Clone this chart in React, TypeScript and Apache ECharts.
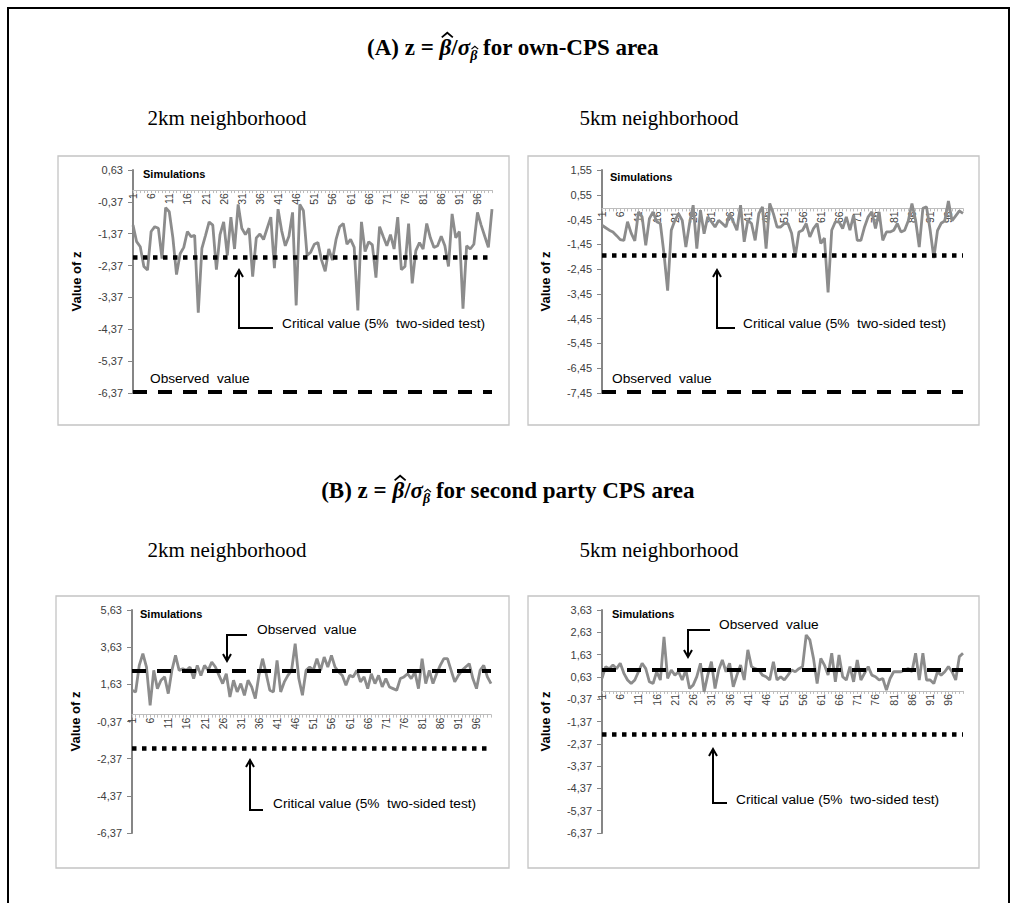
import React, { useEffect, useRef } from "react";
import * as echarts from "echarts";

// ---------- data ----------
const categories: string[] = Array.from({ length: 100 }, (_, i) => String(i + 1));

const simOwn2km = [
  -1.10, -1.62, -1.78, -2.40, -2.51, -1.30, -1.15, -1.20, -2.15, -0.55,
  -0.68, -1.50, -2.65, -2.00, -1.80, -1.30, -1.46, -1.42, -3.85, -1.83,
  -1.42, -1.00, -1.10, -2.50, -1.40, -1.00, -2.05, -0.85, -1.85, -0.45,
  -1.20, -1.40, -1.20, -2.72, -1.50, -1.38, -1.55, -1.20, -0.85, -2.45,
  -0.60, -1.28, -1.75, -1.45, -0.70, -3.62, -0.45, -0.65, -2.05, -1.95,
  -1.70, -1.65, -2.20, -2.55, -1.85, -2.20, -1.55, -1.15, -1.05, -1.70,
  -1.55, -1.80, -3.78, -1.00, -1.93, -1.62, -1.72, -2.75, -1.15, -1.46,
  -1.75, -1.40, -1.85, -0.85, -2.50, -2.40, -1.05, -2.93, -1.90, -1.65,
  -1.85, -1.05, -1.50, -1.80, -1.75, -1.45, -1.75, -2.40, -0.75, -1.50,
  -1.30, -3.72, -1.75, -1.85, -1.70, -0.70, -1.10, -1.45, -1.80, -0.60,
];
const simOwn5km = [
  -0.68, -0.78, -0.88, -0.95, -1.10, -1.26, -1.29, -0.54, -1.00, -1.31,
  -0.14, -0.34, -1.49, -0.41, -0.14, -0.54, -0.61, -1.83, -3.32, -0.88,
  -0.48, -0.21, -0.48, -1.56, -0.61, 0.13, -1.62, -0.07, -1.02, -0.34,
  -0.54, -0.75, -0.48, -0.61, -0.75, -0.21, -0.54, -0.88, 0.13, -1.35,
  -0.48, -0.61, -1.29, -0.21, 0.06, -1.62, 0.20, -0.21, -0.75, -0.75,
  -0.61, -0.61, -1.00, -1.95, -0.95, -0.88, -0.61, -1.15, -0.81, -0.61,
  -1.42, -1.20, -3.39, -0.88, -0.54, -0.54, -0.81, -0.34, -0.88, -0.27,
  -1.29, -1.29, -0.75, -0.34, -0.14, -0.81, -0.14, -1.29, -0.95, -0.95,
  -0.88, -0.61, -0.95, -0.88, -0.50, 0.20, -0.48, -1.56, 0.00, 0.06,
  -0.88, -2.00, -0.90, -0.60, -0.50, 0.30, -0.50, -0.30, -0.10, -0.20,
];
const simSecond2km = [
  1.31, 1.22, 2.65, 3.28, 2.56, 0.50, 2.38, 1.40, 1.85, 2.03,
  1.13, 2.38, 3.19, 2.38, 2.47, 2.38, 2.56, 1.94, 2.65, 2.11,
  2.65, 2.38, 2.83, 2.56, 2.11, 1.67, 2.20, 0.95, 1.85, 1.22,
  1.67, 1.04, 1.85, 1.49, 0.86, 2.11, 3.01, 2.20, 1.31, 1.22,
  2.92, 1.22, 1.76, 2.11, 2.38, 3.82, 1.94, 1.04, 2.38, 2.56,
  2.38, 3.01, 2.38, 3.10, 2.56, 3.19, 2.56, 2.29, 2.11, 1.58,
  2.11, 2.03, 2.38, 1.76, 2.03, 1.40, 2.20, 1.67, 2.11, 1.49,
  1.94, 1.49, 1.40, 1.31, 1.94, 2.03, 2.20, 1.94, 2.29, 1.40,
  3.01, 1.67, 2.38, 1.67, 2.20, 2.65, 3.01, 3.01, 2.38, 1.76,
  2.11, 2.38, 2.56, 2.74, 1.94, 1.40, 2.38, 2.65, 2.03, 1.67,
];
const simSecond5km = [
  0.56, 1.09, 1.00, 1.16, 1.00, 1.24, 0.79, 0.49, 0.33, 0.49,
  0.86, 1.24, 1.00, 0.41, 0.33, 0.86, 0.49, 2.43, 0.56, 0.94,
  0.71, 0.86, 0.49, 0.94, 0.11, 0.26, 0.64, 1.24, -0.04, 0.71,
  1.31, 0.11, 0.94, 1.39, 0.86, 1.24, 0.19, 0.71, 1.16, 0.49,
  1.84, 1.09, 1.00, 0.94, 0.71, 0.64, 0.49, 1.31, 0.49, 0.64,
  0.49, 0.71, 0.94, 0.86, 1.00, 1.09, 2.51, 2.29, 1.46, 0.33,
  1.46, 1.16, 0.71, 1.69, 0.41, 1.61, 0.64, 0.49, 1.09, 0.41,
  1.39, 0.49, 0.79, 1.09, 0.71, 0.64, 0.49, 0.56, 0.04, 0.56,
  0.86, 0.86, 0.86, 0.94, 1.00, 0.86, 1.69, 0.49, 1.69, 0.49,
  0.49, 0.33, 0.86, 0.71, 0.86, 1.09, 0.86, 0.49, 1.54, 1.69,
];

const ticksOwn2km = [0.63, -0.37, -1.37, -2.37, -3.37, -4.37, -5.37, -6.37];
const ticksOwn5km = [1.55, 0.55, -0.45, -1.45, -2.45, -3.45, -4.45, -5.45, -6.45, -7.45];
const ticksSecond2km = [5.63, 3.63, 1.63, -0.37, -2.37, -4.37, -6.37];
const ticksSecond5km = [3.63, 2.63, 1.63, 0.63, -0.37, -1.37, -2.37, -3.37, -4.37, -5.37, -6.37];

const criticalValues = [-2.1, -1.9, -1.8, -1.95];
const observedValues = [-6.33, -7.41, 2.36, 0.94];

// ---------- styling ----------
const SANS = "'Liberation Sans', Arial, sans-serif";
const SERIF = "'Liberation Serif', 'Times New Roman', serif";
const fmt = (v: number) => v.toFixed(2).replace(".", ",");

const grids = [
  { left: 133, top: 170, width: 359, height: 223 },
  { left: 602, top: 170, width: 361, height: 223 },
  { left: 132, top: 610, width: 359, height: 223 },
  { left: 602, top: 610, width: 361, height: 223 },
];
const panelData = [simOwn2km, simOwn5km, simSecond2km, simSecond5km];
const panelTicks = [ticksOwn2km, ticksOwn5km, ticksSecond2km, ticksSecond5km];

let measureCtx: CanvasRenderingContext2D | null = null;
function measure(font: string, text: string): number {
  if (!measureCtx) measureCtx = document.createElement("canvas").getContext("2d");
  if (!measureCtx) return text.length * 10;
  measureCtx.font = font;
  return measureCtx.measureText(text).width;
}

// Title "(A) z = β̂/σ_β̂ rest" built from measured pieces, centred on cx
function titleGroup(cx: number, cy: number, label: string, rest: string): any[] {
  const size = 23;
  const subSize = 14;
  const fam = "'Liberation Serif'";
  const fB = `bold ${size}px ${fam}`;
  const fBI = `italic bold ${size}px ${fam}`;
  const fSub = `italic bold ${subSize}px ${fam}`;
  const pieces = [
    { text: `${label} z = `, font: fB, size, italic: false, dy: 0, hat: false },
    { text: "β", font: fBI, size, italic: true, dy: 0, hat: true },
    { text: "/", font: fB, size, italic: false, dy: 0, hat: false },
    { text: "σ", font: fBI, size, italic: true, dy: 0, hat: false },
    { text: "β", font: fSub, size: subSize, italic: true, dy: 8, hat: true },
    { text: ` ${rest}`, font: fB, size, italic: false, dy: 0, hat: false },
  ];
  const widths = pieces.map((p) => measure(p.font, p.text));
  const total = widths.reduce((a, b) => a + b, 0);
  let x = cx - total / 2;
  const out: any[] = [];
  pieces.forEach((p, k) => {
    out.push({
      type: "text",
      x,
      y: cy + p.dy,
      style: {
        text: p.text,
        fontFamily: fam,
        fontWeight: "bold",
        fontStyle: p.italic ? "italic" : "normal",
        fontSize: p.size,
        fill: "#000",
        align: "left",
        verticalAlign: "middle",
      },
    });
    if (p.hat) {
      const hc = x + widths[k] / 2 + p.size * 0.08;
      const top = cy + p.dy - p.size * 0.62;
      const hw = p.size * 0.24;
      const hh = p.size * 0.2;
      out.push({
        type: "polyline",
        shape: { points: [[hc - hw, top + hh], [hc, top], [hc + hw, top + hh]] },
        style: { stroke: "#000", lineWidth: p.size > 18 ? 1.8 : 1.2, fill: "none" },
      });
    }
    x += widths[k];
  });
  return out;
}

function buildOption() {
  const xAxis: any[] = [];
  const yAxis: any[] = [];
  const series: any[] = [];
  panelData.forEach((d, i) => {
    const ticks = panelTicks[i];
    const yMin = ticks[ticks.length - 1];
    const yMax = ticks[0];
    // place the category axis where the value axis crosses zero
    const zeroOffset = -((0 - yMin) / (yMax - yMin)) * grids[i].height;
    xAxis.push({
      type: "category",
      gridIndex: i,
      data: categories,
      boundaryGap: false,
      position: "bottom",
      offset: zeroOffset,
      axisLine: { onZero: false, lineStyle: { color: "#bdbdbd", width: 1 } },
      axisTick: { show: true, interval: 0, length: 3, lineStyle: { color: "#bdbdbd" } },
      axisLabel: {
        interval: 4,
        rotate: 90,
        fontSize: 10.5,
        fontFamily: SANS,
        color: "#404040",
        margin: 3,
      },
      splitLine: { show: false },
    });
    yAxis.push({
      type: "value",
      gridIndex: i,
      min: yMin,
      max: yMax,
      name: "Value of z",
      nameLocation: "middle",
      nameGap: 50,
      nameTextStyle: { fontFamily: SANS, fontWeight: "bold", fontSize: 13, color: "#000" },
      axisLine: { show: true, lineStyle: { color: "#868686", width: 2 } },
      axisTick: { show: true, length: 5, customValues: ticks, lineStyle: { color: "#868686" } },
      axisLabel: {
        customValues: ticks,
        formatter: (v: number) => fmt(v),
        fontSize: 11,
        fontFamily: SANS,
        color: "#404040",
        margin: 10,
      },
      splitLine: { show: false },
    });
    series.push({
      type: "line",
      xAxisIndex: i,
      yAxisIndex: i,
      data: d,
      symbol: "none",
      lineStyle: { color: "#8c8c8c", width: 2.8 },
      markLine: {
        silent: true,
        symbol: ["none", "none"],
        label: { show: false },
        data: [
          { yAxis: criticalValues[i], lineStyle: { color: "#000", width: 4.5, type: [4.5, 5.5] } },
          { yAxis: observedValues[i], lineStyle: { color: "#000", width: 4, type: [14, 11] } },
        ],
      },
    });
  });

  const annFont = { fontFamily: SANS, fontSize: 13.7, fill: "#000" };
  const txt = (x: number, y: number, text: string, extra: any = {}) => ({
    type: "text",
    x,
    y,
    style: { text, ...annFont, textVerticalAlign: "middle", ...extra },
  });
  const pl = (points: number[][]) => ({
    type: "polyline",
    shape: { points },
    style: { stroke: "#000", lineWidth: 2, fill: "none" },
  });
  const upArrow = (x: number, tip: number, bottom: number, right: number) => [
    pl([[right, bottom], [x, bottom], [x, tip]]),
    pl([[x - 4, tip + 7], [x, tip], [x + 4, tip + 7]]),
  ];
  const downArrow = (x: number, top: number, tip: number, right: number) => [
    pl([[right, top], [x, top], [x, tip]]),
    pl([[x - 4, tip - 7], [x, tip], [x + 4, tip - 7]]),
  ];
  const box = (x: number, y: number, w: number, h: number) => ({
    type: "rect",
    shape: { x, y, width: w, height: h },
    style: { fill: "none", stroke: "#c4c4c4", lineWidth: 1.3 },
  });
  const sim = (x: number, y: number) =>
    txt(x, y, "Simulations", { fontWeight: "bold", fontSize: 11 });
  const sub = (x: number, y: number, text: string) => ({
    type: "text",
    x,
    y,
    style: { text, fontFamily: SERIF, fontSize: 21, fill: "#000", align: "center", verticalAlign: "middle" },
  });

  const graphic: any[] = [
    {
      type: "rect",
      shape: { x: 8, y: 8, width: 1001, height: 930 },
      style: { fill: "none", stroke: "#000", lineWidth: 2 },
    },
    box(58, 156, 451, 269),
    box(528, 156, 451, 269),
    box(56, 596, 453, 272),
    box(528, 596, 451, 272),
    ...titleGroup(513, 47, "(A)", "for own-CPS area"),
    ...titleGroup(508, 490, "(B)", "for second party CPS area"),
    sub(227, 118, "2km neighborhood"),
    sub(659, 118, "5km neighborhood"),
    sub(227, 550, "2km neighborhood"),
    sub(659, 550, "5km neighborhood"),
    sim(143, 174),
    sim(610, 177),
    sim(140, 614),
    sim(612, 614),
    // panel A-left
    txt(150, 378, "Observed  value"),
    ...upArrow(239, 270, 328, 273),
    txt(282, 323, "Critical value (5%  two-sided test)"),
    // panel A-right
    txt(612, 378, "Observed  value"),
    ...upArrow(717, 270, 328, 735),
    txt(743, 323, "Critical value (5%  two-sided test)"),
    // panel B-left
    ...downArrow(227, 635, 661, 247),
    txt(257, 629, "Observed  value"),
    ...upArrow(250, 760, 810, 263),
    txt(273, 803, "Critical value (5%  two-sided test)"),
    // panel B-right
    ...downArrow(688, 630, 657, 710),
    txt(719, 624, "Observed  value"),
    ...upArrow(713, 749, 803, 727),
    txt(736, 799, "Critical value (5%  two-sided test)"),
  ];

  return {
    animation: false,
    backgroundColor: "#fff",
    grid: grids,
    xAxis,
    yAxis,
    series,
    graphic,
  };
}

export default function App() {
  const ref = useRef<HTMLDivElement>(null);
  useEffect(() => {
    document.body.style.margin = "0";
    const chart = echarts.init(ref.current!, undefined, { renderer: "svg", width: 1016, height: 903 });
    chart.setOption(buildOption() as any);
    return () => chart.dispose();
  }, []);
  return <div ref={ref} style={{ width: 1016, height: 903 }} />;
}
